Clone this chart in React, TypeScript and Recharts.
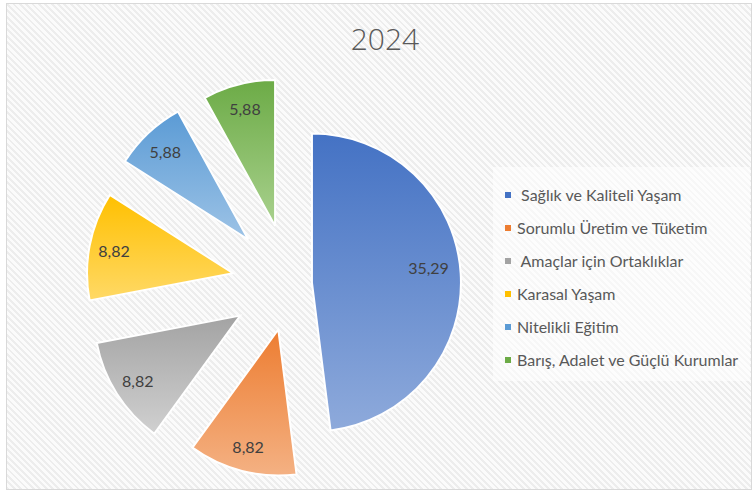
import { PieChart, Pie, Cell, Sector, Legend, Tooltip } from "recharts";

const title = "2024";
const categories = [
  " Sağlık ve Kaliteli Yaşam",
  "Sorumlu Üretim ve Tüketim",
  " Amaçlar için Ortaklıklar",
  "Karasal Yaşam",
  "Nitelikli Eğitim",
  "Barış, Adalet ve Güçlü Kurumlar",
];
const values = [35.29, 8.82, 8.82, 8.82, 5.88, 5.88];

// top / bottom colours of each slice gradient
const TOP = ["#4472C4", "#ED7D31", "#A3A3A3", "#FFC000", "#5B9BD5", "#6CAB46"];
const BOTTOM = ["#8EAADB", "#F4B183", "#D0D0D0", "#FFD966", "#9DC3E6", "#A9D18E"];
// how far each slice is pulled out of the pie (px)
const EXPLODE = [22, 47, 59, 58, 61, 60];

const names = categories.map((c) => c.trim());
const data = names.map((name, i) => ({ name, value: values[i] }));

const RADIAN = Math.PI / 180;
const FONT = "Lato, 'Open Sans', sans-serif";
const TEXT = "#595959";

const sliceIndex = (p: any) => Math.max(0, names.indexOf(p.name ?? p.payload?.name));

function ExplodedSector(props: any) {
  const i = sliceIndex(props);
  const d = EXPLODE[i];
  const a = -props.midAngle * RADIAN;
  return (
    <Sector
      {...props}
      outerRadius={props.outerRadius + (i === 0 ? 3 : 0)}
      cx={props.cx + d * Math.cos(a)}
      cy={props.cy + d * Math.sin(a)}
    />
  );
}

function renderLabel(p: any) {
  const i = sliceIndex(p);
  const a = -p.midAngle * RADIAN;
  const r = p.outerRadius * (i === 0 ? 0.8 : 0.83) + EXPLODE[i];
  const x = p.cx + r * Math.cos(a);
  const y = p.cy + r * Math.sin(a) - (i === 0 ? 8 : 0);
  return (
    <text x={x} y={y} textAnchor="middle" dominantBaseline="central" fill="#404040" fontSize={16} fontFamily={FONT}>
      {p.value.toFixed(2).replace(".", ",")}
    </text>
  );
}

function LegendBox() {
  return (
    <div style={{ background: "rgba(255,255,255,0.55)", width: 257, height: 214, paddingTop: 11, boxSizing: "border-box", fontFamily: FONT }}>
      {categories.map((c, i) => (
        <div key={c} style={{ display: "flex", alignItems: "center", height: 33, paddingLeft: 12 }}>
          <span style={{ width: 6, height: 6, background: TOP[i], marginRight: 6, flexShrink: 0 }} />
          <span style={{ fontSize: 16, color: TEXT, whiteSpace: "pre" }}>{c}</span>
        </div>
      ))}
    </div>
  );
}

export default function App() {
  return (
    <div style={{ position: "absolute", left: 0, top: 0, width: 754, height: 494, background: "#fff" }}>
      <div
        style={{
          position: "absolute", left: 6, top: 3, width: 746, height: 487, border: "1px solid #d9d9d9", boxSizing: "border-box",
          background: "repeating-linear-gradient(45deg, #ededed 0px, #ededed 2px, #fbfbfb 2px, #fbfbfb 4.5px)",
        }}
      />
      <div style={{ position: "absolute", left: 0, width: 770, top: 18, textAlign: "center", fontFamily: "'Open Sans', sans-serif", fontSize: 30, fontWeight: 300, color: TEXT }}>
        {title}
      </div>
      <div style={{ position: "absolute", left: 0, top: 0 }}>
        <PieChart width={754} height={494} margin={{ top: 0, right: 0, bottom: 0, left: 0 }}>
          <defs>
            {TOP.map((c, i) => (
              <linearGradient key={i} id={`g${i}`} x1="0" y1="0" x2="0" y2="1">
                <stop offset="0%" stopColor={c} />
                <stop offset="100%" stopColor={BOTTOM[i]} />
              </linearGradient>
            ))}
          </defs>
          <Pie
            data={data}
            dataKey="value"
            nameKey="name"
            cx={290}
            cy={284}
            outerRadius={146}
            startAngle={90}
            endAngle={-270}
            stroke="#fff"
            strokeWidth={2}
            labelLine={false}
            label={renderLabel}
            shape={ExplodedSector}
            activeShape={ExplodedSector}
            inactiveShape={ExplodedSector}
            isAnimationActive={false}
          >
            {data.map((_, i) => (
              <Cell key={i} fill={`url(#g${i})`} />
            ))}
          </Pie>
          <Tooltip defaultIndex={0} content={() => null} cursor={false} />
          <Legend wrapperStyle={{ left: 493, top: 167, width: 257 }} content={() => <LegendBox />} />
        </PieChart>
      </div>
    </div>
  );
}
